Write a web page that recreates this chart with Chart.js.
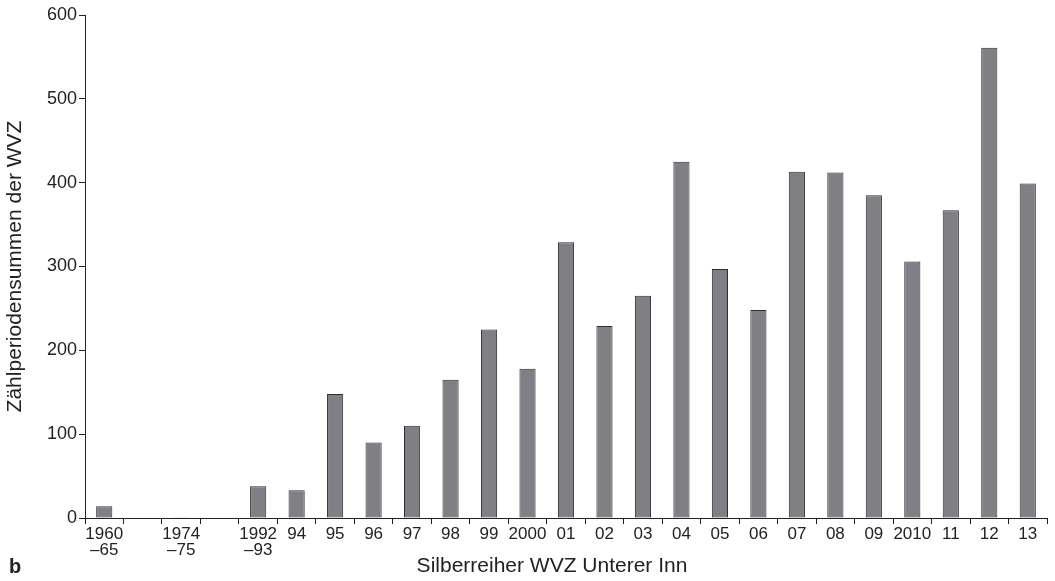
<!DOCTYPE html>
<html>
<head>
<meta charset="utf-8">
<script src="https://cdn.jsdelivr.net/npm/chart.js@4.4.1/dist/chart.umd.min.js"></script>
<style>
  html, body { margin: 0; padding: 0; background: #ffffff; }
  #wrap { width: 1055px; height: 581px; position: relative; }
</style>
</head>
<body>
<div id="wrap"><canvas id="c" width="1055" height="581"></canvas></div>
<script>
// Categories (blank entries are gaps in the series)
const categories = [
  ["1960", "–65"], "", ["1974", "–75"], "", ["1992", "–93"],
  "94", "95", "96", "97", "98", "99", "2000",
  "01", "02", "03", "04", "05", "06", "07", "08", "09", "2010",
  "11", "12", "13"
];
// Zählperiodensummen der WVZ
const counts = [
  14, null, 1, null, 38,
  33, 148, 90, 110, 165, 225, 178,
  329, 229, 265, 425, 297, 248, 413, 412, 385, 306,
  367, 561, 399
];
const yTicks = [0, 100, 200, 300, 400, 500, 600];
const yTitle = "Zählperiodensummen der WVZ";
const xTitle = "Silberreiher WVZ Unterer Inn";
const panelLetter = "b";

const FONT = "'Liberation Sans', Arial, Helvetica, sans-serif";
const INK = "#222222";

const extraText = {
  id: 'extraText',
  afterDraw(chart) {
    const ctx = chart.ctx;
    const a = chart.chartArea;
    ctx.save();
    ctx.fillStyle = INK;
    ctx.textBaseline = 'middle';
    ctx.font = "21px " + FONT;
    ctx.textAlign = 'center';
    ctx.fillText(xTitle, (a.left + a.right) / 2 - 14, 566);
    ctx.font = "bold 20px " + FONT;
    ctx.textAlign = 'left';
    ctx.fillText(panelLetter, 9, 567);
    ctx.restore();
  }
};

new Chart(document.getElementById('c'), {
  type: 'bar',
  data: {
    labels: categories,
    datasets: [{
      data: counts,
      backgroundColor: '#7f7f84',
      borderColor: '#2e2e30',
      borderWidth: 1,
      borderSkipped: false,
      barPercentage: 0.42,
      categoryPercentage: 1.0
    }]
  },
  options: {
    responsive: false,
    animation: false,
    devicePixelRatio: 1,
    layout: { padding: { top: 15, right: 8, left: 0, bottom: 0 } },
    plugins: {
      legend: { display: false },
      tooltip: { enabled: false },
      title: { display: false }
    },
    scales: {
      x: {
        type: 'category',
        offset: true,
        grid: {
          offset: true,
          drawOnChartArea: false,
          drawTicks: true,
          tickLength: 6,
          color: INK,
          lineWidth: 1
        },
        border: { display: true, color: INK, width: 1 },
        ticks: {
          color: INK,
          font: { family: FONT, size: 17, lineHeight: 0.95 },
          padding: 2,
          maxRotation: 0,
          autoSkip: false
        },
        afterFit(scale) { scale.height = 63; }
      },
      y: {
        min: 0,
        max: 600,
        afterBuildTicks(scale) { scale.ticks = yTicks.map(v => ({ value: v })); },
        grid: {
          drawOnChartArea: false,
          drawTicks: true,
          tickLength: 6,
          color: INK,
          lineWidth: 1
        },
        border: { display: true, color: INK, width: 1 },
        ticks: {
          color: INK,
          font: { family: FONT, size: 18 },
          padding: 2
        },
        title: {
          display: true,
          text: yTitle,
          color: INK,
          font: { family: FONT, size: 21 },
          padding: { top: 3, bottom: 0 }
        },
        afterFit(scale) { scale.width = 85; }
      }
    }
  },
  plugins: [extraText]
});
</script>
</body>
</html>
